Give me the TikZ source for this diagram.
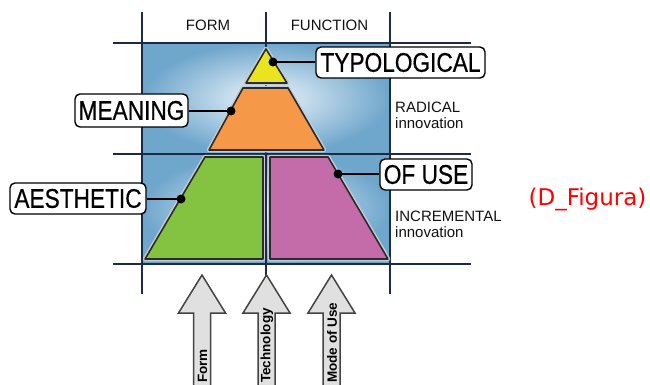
\documentclass[tikz,border=0pt]{standalone}
\usepackage{fontspec}
\setmainfont{Liberation Sans}
\newfontfamily\figfont{DejaVu Sans}
\newfontfamily\lblfont[FakeBold=0.6]{Liberation Sans}
\definecolor{navy}{HTML}{1B2B45}
\definecolor{outl}{HTML}{2B2B2B}
\definecolor{haloc}{HTML}{C5CBD2}
\definecolor{bluein}{HTML}{EEF6FB}
\definecolor{blueout}{HTML}{6FA6CC}
\definecolor{ylw}{HTML}{E8E420}
\definecolor{org}{HTML}{F59848}
\definecolor{grn}{HTML}{84C342}
\definecolor{mag}{HTML}{C46BA9}
\definecolor{arrfill}{HTML}{E0E0E0}
\definecolor{arrline}{HTML}{444444}
\definecolor{txt}{HTML}{111111}
\definecolor{figred}{HTML}{FF0000}
\begin{document}
\begin{tikzpicture}[x=1pt,y=-1pt,
 gridline/.style={navy, line width=2.5pt},
 halo/.style={draw=haloc, line width=4.5pt, line join=round},
 piece/.style={draw=outl, line width=1.6pt, line join=round},
 lbl/.style={draw=black, line width=1.4pt, rounded corners=5pt, fill=white, inner sep=0pt, minimum height=31pt, font=\lblfont\fontsize{27}{30}\selectfont},
 dotmark/.style={circle, fill=black, inner sep=0pt, minimum size=9pt},
 leader/.style={black, line width=1.6pt},
 head/.style={font=\fontsize{15}{18}\selectfont, text=txt, inner sep=0pt},
 side/.style={font=\fontsize{15}{16}\selectfont, text=txt, inner sep=0pt, align=left, anchor=west},
 arrtxt/.style={font=\bfseries\fontsize{13.5}{15}\selectfont, rotate=90, anchor=west, inner sep=0pt, text=black},
 blockfill/.style={fill=arrfill},
 blockline/.style={draw=arrline, line width=1.5pt, line join=miter}
]
\useasboundingbox (0,0) rectangle (650,385);

% shaded background
\shade[inner color=bluein, outer color=blueout] (142,43) rectangle (390,154);
\shade[inner color=bluein, outer color=blueout] (142,154) rectangle (390,264);

% grid
\coordinate (vlt) at (142,12); \coordinate (vlb) at (142,294);
\coordinate (vmt) at (266,12); \coordinate (vmb) at (266,276);
\coordinate (vrt) at (390,12); \coordinate (vrb) at (390,294);
\coordinate (h1l) at (113,43);  \coordinate (h1r) at (471,43);
\coordinate (h2l) at (113,154); \coordinate (h2r) at (471,154);
\coordinate (h3l) at (113,264); \coordinate (h3r) at (471,264);
\draw[gridline] (h1l) -- (h1r);
\draw[gridline] (h2l) -- (h2r);
\draw[gridline] (h3l) -- (h3r);
\draw[gridline] (vlt) -- (vlb);
\draw[gridline] (vmt) -- (vmb);
\draw[gridline] (vrt) -- (vrb);

% headings
\node[head] (form) at (208,25.5) {FORM};
\node[head] (func) at (329.5,25.5) {FUNCTION};
\node[side] (rad) at (395,115.5) {RADICAL\\innovation};
\node[side] (inc) at (395,224.5) {INCREMENTAL\\innovation};

% pyramid pieces
\path[halo] (266,49) -- (287,83) -- (246,83) -- cycle;
\path[piece, fill=ylw] (266,49) -- (287,83) -- (246,83) -- cycle;
\path[halo] (243,88) -- (288,88) -- (324,150) -- (209,150) -- cycle;
\path[piece, fill=org] (243,88) -- (288,88) -- (324,150) -- (209,150) -- cycle;
\path[halo] (205,157) -- (263,157) -- (263,259) -- (145,259) -- cycle;
\path[piece, fill=grn] (205,157) -- (263,157) -- (263,259) -- (145,259) -- cycle;
\path[halo] (270,157) -- (328,157) -- (388,259) -- (270,259) -- cycle;
\path[piece, fill=mag] (270,157) -- (328,157) -- (388,259) -- (270,259) -- cycle;
\draw[navy, line width=1.5pt] (266,155) -- (266,262);

% block arrows
\foreach \cx/\nm/\tx in {202/Form/Form, 266.5/Tech/Technology, 331.5/Mode/Mode of Use}{
  \fill[blockfill] (\cx-8.5,386) -- (\cx-8.5,313) -- (\cx-23.5,313) -- (\cx,275) -- (\cx+23.5,313) -- (\cx+8.5,313) -- (\cx+8.5,386) -- cycle;
  \draw[blockline] (\cx-8.5,386) -- (\cx-8.5,313) -- (\cx-23.5,313) -- (\cx,275) -- (\cx+23.5,313) -- (\cx+8.5,313) -- (\cx+8.5,386);
  \node[arrtxt] (a\nm) at (\cx+0.5,383) {\tx};
}

% labels
\node[lbl, minimum width=169pt] (typ) at (400.5,62.5) {\scalebox{0.84}[1]{TYPOLOGICAL}};
\node[lbl, minimum width=113pt, minimum height=33pt] (mea) at (131.5,110.5) {\scalebox{0.84}[1]{MEANING}};
\node[lbl, minimum width=136pt] (aes) at (78,198.5) {\scalebox{0.84}[1]{AESTHETIC}};
\node[lbl, minimum width=92pt] (use) at (426,174.5) {\scalebox{0.84}[1]{OF USE}};

\coordinate (dtyp) at (273,62);
\coordinate (dmea) at (231,111);
\coordinate (daes) at (181,199);
\coordinate (duse) at (338,174);
\draw[leader] (dtyp) -- (dtyp -| typ.west);
\draw[leader] (dmea) -- (dmea -| mea.east);
\draw[leader] (daes) -- (daes -| aes.east);
\draw[leader] (duse) -- (duse -| use.west);
\node[dotmark] (ptyp) at (dtyp) {};
\node[dotmark] (pmea) at (dmea) {};
\node[dotmark] (paes) at (daes) {};
\node[dotmark] (puse) at (duse) {};

% figure tag
\node[font=\figfont\fontsize{23}{26}\selectfont, text=figred, inner sep=0pt] (tag) at (587.5,199) {(D\_Figura)};
\end{tikzpicture}
\end{document}
